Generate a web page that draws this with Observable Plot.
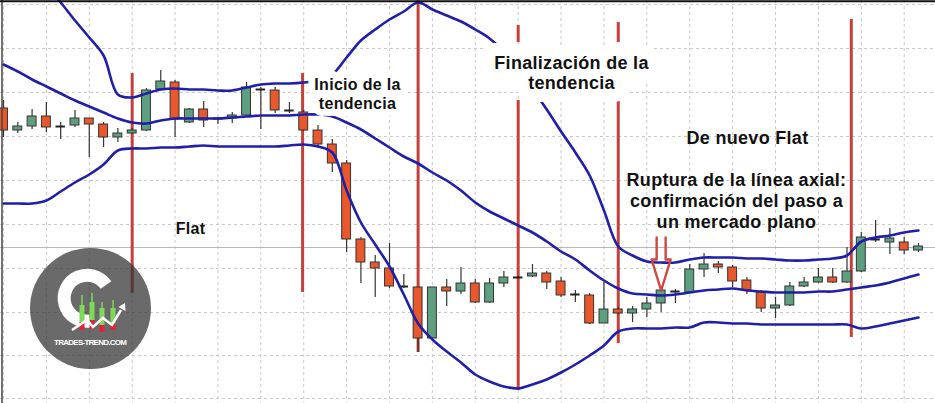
<!DOCTYPE html>
<html><head><meta charset="utf-8">
<script src="https://cdn.jsdelivr.net/npm/d3@7"></script>
<script src="https://cdn.jsdelivr.net/npm/@observablehq/plot@0.6"></script>
<style>
html,body{margin:0;padding:0;background:#fff;}
#wrap{position:relative;width:935px;height:403px;overflow:hidden;}
#wrap svg{position:absolute;left:0;top:0;}
</style></head><body><div id="wrap"></div>
<script>
// ---- candle data (price levels) ----
const opens  = [392,370,374,384,374,375,382,376,363,367,370,411,418,378,391,382,382,385,411,410,390,388,370,356,337,261,238,232,214,213,162,213,209,217,198,217,223,224,227,219,206,205,177,191,187,191,197,209,208,231,236,233,220,208,192,195,214,218,223,218,229,261,258,258,250];
const closes = [370,374,384,373,374,382,376,363,367,370,410,419,381,391,380,382,385,413,411,390,390,370,356,337,261,238,232,214,214,162,213,209,217,198,217,223,223,227,218,205,206,177,191,187,191,197,210,209,231,236,233,219,210,192,195,214,218,223,218,229,263,261,262,250,254];
const highs  = [400,378,391,398,378,390,382,378,372,372,412,430,420,392,399,383,388,418,413,413,398,390,375,361,340,263,245,257,226,213,213,221,233,221,222,229,224,236,229,223,210,207,218,193,194,203,212,211,236,247,239,235,223,210,203,218,223,232,232,253,268,280,272,263,257];
const lows   = [363,367,371,368,361,373,343,353,358,366,369,411,363,377,373,376,377,384,371,387,387,369,352,328,248,217,203,212,212,148,162,194,206,197,197,213,222,223,211,203,198,176,177,186,178,183,188,197,207,223,227,213,206,188,182,194,213,217,217,217,228,258,246,246,248];

// ---- Bollinger bands ----
const upperBand  = [560,545,529,514,498,480,463,445,406,403,407,411,412,411,411,410,410,413,416,417,417,418,420,426,443,460,471,481,489,498,491,485,479,471,462,449,429,411,391,369,348,325,290,254,245,239,238,238,241,243,243,243,242,242,241,240,240,241,242,245,259,263,265,268,270];
const middleBand = [436,429,421,414,407,400,394,388,382,378,377,380,382,382,382,382,383,384,385,385,385,386,386,384,378,371,362,353,344,337,328,320,310,298,289,282,275,268,259,249,241,230,220,212,207,206,205,206,208,210,211,212,210,209,208,208,208,209,209,211,213,215,218,222,226];
const lowerBand  = [297,297,297,300,309,318,326,336,350,352,352,353,353,354,355,354,354,354,354,354,355,356,354,348,310,278,256,234,206,177,161,149,138,126,119,114,112,116,121,128,136,145,155,169,172,172,172,173,173,178,178,177,177,176,176,176,176,176,176,176,172,174,177,180,183];

// ---- vertical event line segments (candle index, top level, bottom level) ----
const eventX      = [9, 20.92, 29, 36, 36, 43, 43, 59.3];
const eventTop    = [427, 427, 500, 475, 400, 478, 400, 481];
const eventBottom = [207, 208, 148, 458, 110, 458, 157, 163];

// ---- grid ----
const gridX = [0,3,6,9,12,15,18,21,24,27,30,33,36,39,42,45,48,51,54,57,60,63];
const gridY = [496,452,408,364,320,276,232,188,145,102];
const priceLevel = [253];

// ---- annotations ----
const labelText = ["Inicio de la\ntendencia", "Finalización de la\ntendencia", "De nuevo Flat", "Ruptura de la línea axial:\nconfirmación del paso a\nun mercado plano", "Flat"];
const labelX = [24.76, 39.73, 52.04, 51.27, 13.08];
const labelY = [407.5, 428, 363, 300, 273];
const arrowAt = [{i: 46, level: 263}];

const RED = "#c4403b", BLUE = "#1f1fa8", GREEN = "#5e9f80", ORANGE = "#e8582c", DARK = "#333";
const FONT = "Liberation Sans, Arial, sans-serif";

const candles = opens.map((o, i) => ({i, open: o, close: closes[i], high: highs[i], low: lows[i]}));
const bodies = candles.filter(d => d.open !== d.close);
const dojis = candles.filter(d => d.open === d.close);
const bandRows = (arr) => arr.map((v, i) => ({i, v}));
const events = eventX.map((x, k) => ({x, top: eventTop[k], bottom: eventBottom[k]}));
const labels = labelText.map((t, k) => ({t, x: labelX[k], y: labelY[k]}));

const arrowShape = {
  draw(context, l) {
    const h = 31, s = 4.5, w = 9.5;
    context.moveTo(-s, 0);
    context.lineTo(-s, -(l - h));
    context.lineTo(-w, -(l - h));
    context.lineTo(0, -l);
    context.lineTo(w, -(l - h));
    context.lineTo(s, -(l - h));
    context.lineTo(s, 0);
  }
};

const txt = (data, size, lh, extra) => Plot.text(data, {x: "x", y: "y", text: "t", fontSize: size, fontWeight: "bold",
  fontFamily: FONT, fill: "#111", lineHeight: lh, ...extra});

const chart = Plot.plot({
  width: 935, height: 403, margin: 0,
  x: {domain: [-0.21, 65.19], axis: null},
  y: {domain: [97, 500], axis: null},
  style: {background: "white", overflow: "hidden"},
  marks: [
    Plot.ruleX(gridX, {stroke: "#c9c9c9", strokeDasharray: "3,3", strokeWidth: 1}),
    Plot.ruleY(gridY, {stroke: "#c9c9c9", strokeDasharray: "3,3", strokeWidth: 1}),
    Plot.ruleY(priceLevel, {stroke: "#b8b8b8", strokeWidth: 1}),
    Plot.ruleX(events, {x: "x", y1: "bottom", y2: "top", stroke: RED, strokeWidth: 3}),
    Plot.ruleX(candles, {x: "i", y1: "low", y2: "high", stroke: DARK, strokeWidth: 1.2}),
    Plot.rect(bodies, {x1: d => d.i - 0.5, x2: d => d.i + 0.5, y1: "open", y2: "close",
      insetLeft: 2.7, insetRight: 2.7, fill: d => d.close > d.open ? GREEN : ORANGE, stroke: DARK, strokeWidth: 1}),
    Plot.ruleY(dojis, {y: "open", x1: d => d.i - 0.33, x2: d => d.i + 0.33, stroke: "#222", strokeWidth: 2}),
    Plot.line(bandRows(upperBand), {x: "i", y: "v", stroke: BLUE, strokeWidth: 2.6, curve: "catmull-rom", clip: true}),
    Plot.line(bandRows(middleBand), {x: "i", y: "v", stroke: BLUE, strokeWidth: 2.6, curve: "catmull-rom", clip: true}),
    Plot.line(bandRows(lowerBand), {x: "i", y: "v", stroke: BLUE, strokeWidth: 2.6, curve: "catmull-rom", clip: true}),
    Plot.vector(arrowAt, {x: "i", y: "level", length: 53, rotate: 180, anchor: "start", shape: arrowShape,
      stroke: "#d0453f", strokeWidth: 2.4, fill: "none"}),
    // white halos behind the two labels that sit over the upper band
    txt(labels.slice(0, 1), 16, 1.2, {fill: "white", stroke: "white", strokeWidth: 14}),
    txt(labels.slice(1, 2), 18, 1.12, {fill: "white", stroke: "white", strokeWidth: 26}),
    txt(labels.slice(0, 1), 16, 1.2, {}),
    txt(labels.slice(1, 2), 18, 1.12, {}),
    txt(labels.slice(2, 3), 18, 1.17, {}),
    txt(labels.slice(3, 4), 18, 1.17, {}),
    txt(labels.slice(4), 16, 1.2, {}),
    Plot.ruleX([-0.105], {stroke: "#444", strokeWidth: 1.5}),
    Plot.ruleY([499.2], {stroke: "#111", strokeWidth: 2})
  ]
});
d3.select(chart).selectAll("g[aria-label='text'] text").attr("letter-spacing", "0.3px");
const wrap = document.getElementById("wrap");
wrap.appendChild(chart);

// ---- watermark logo (decoration, not chart data) ----
const logo = d3.select(wrap).append("svg").attr("width", 935).attr("height", 403);
logo.append("circle").attr("cx", 90.5).attr("cy", 308.5).attr("r", 60.5).attr("fill", "#333").attr("fill-opacity", 0.73);
logo.append("path").attr("d", "M106,285 A23,23 0 1 0 90,321").attr("fill", "none").attr("stroke", "white").attr("stroke-width", 13);
const lc = [[82,295,305,322,330],[92,293,302,320,329],[102,302,308,325,332],[113,300,308,323,330]];
lc.forEach(([x, w, b, r, e]) => {
  logo.append("line").attr("x1", x).attr("x2", x).attr("y1", w).attr("y2", b).attr("stroke", "#7ed957").attr("stroke-width", 1.5);
  logo.append("rect").attr("x", x - 2.5).attr("y", b).attr("width", 5).attr("height", r - b).attr("fill", "#7ed957");
  logo.append("rect").attr("x", x - 2.5).attr("y", r).attr("width", 5).attr("height", e - r).attr("fill", "#e5203a");
});
logo.append("polyline").attr("points", "72,330 87,320 93,327 103,318 112,325 121,310").attr("fill", "none").attr("stroke", "white").attr("stroke-width", 2.5);
logo.append("polygon").attr("points", "125,303 125.5,311 118.5,307").attr("fill", "white");
logo.append("text").attr("x", 90.5).attr("y", 345).attr("text-anchor", "middle").attr("font-family", FONT)
  .attr("font-weight", "bold").attr("font-size", 8).attr("fill", "white").attr("textLength", 73).text("TRADES-TREND.COM");
</script></body></html>
